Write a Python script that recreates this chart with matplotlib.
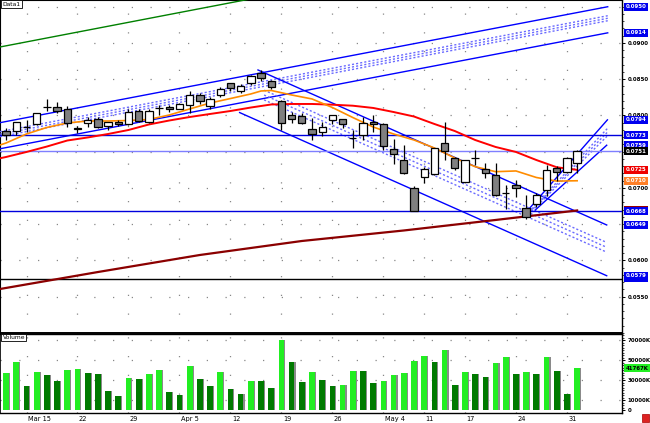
import matplotlib
matplotlib.use("Agg")
import matplotlib.pyplot as plt
import numpy as np

# ---------------- data ----------------
tick_pos = [2, 7, 12, 17, 22, 27, 32, 37, 41, 45, 50, 55]
tick_labels = ["Mar 15", "22", "29", "Apr 5", "12", "19", "26", "May 4", "11", "17", "24", "31"]

opens = [0.07786, 0.07790, 0.07840, 0.07879, 0.08118, 0.08113, 0.08094, 0.07832, 0.07892, 0.07956,
         0.07855, 0.07910, 0.07883, 0.08062, 0.07915, 0.08110, 0.08121, 0.08094, 0.08145, 0.08283,
         0.08135, 0.08279, 0.08444, 0.08342, 0.08444, 0.08590, 0.08472, 0.08196, 0.08003, 0.07993,
         0.07810, 0.07777, 0.07938, 0.07948, 0.07690, 0.07731, 0.07915, 0.07879, 0.07534, 0.07386,
         0.06996, 0.07156, 0.07189, 0.07625, 0.07410, 0.07087, 0.07418, 0.07258, 0.07179, 0.06935,
         0.07041, 0.06720, 0.06779, 0.06972, 0.07272, 0.07225, 0.07349]
highs = [0.07828, 0.07915, 0.07938, 0.08039, 0.08228, 0.08186, 0.08131, 0.07855, 0.07983, 0.07983,
         0.07915, 0.07938, 0.08086, 0.08086, 0.08090, 0.08145, 0.08141, 0.08175, 0.08342, 0.08315,
         0.08251, 0.08397, 0.08448, 0.08434, 0.08563, 0.08628, 0.08490, 0.08214, 0.08052, 0.08030,
         0.07961, 0.07915, 0.08010, 0.07952, 0.07800, 0.07983, 0.08007, 0.07901, 0.07672, 0.07593,
         0.07028, 0.07286, 0.07555, 0.07915, 0.07432, 0.07390, 0.07524, 0.07341, 0.07349, 0.07041,
         0.07110, 0.06903, 0.06927, 0.07317, 0.07304, 0.07432, 0.07524]
lows = [0.07662, 0.07731, 0.07777, 0.07869, 0.08066, 0.08030, 0.07846, 0.07755, 0.07837, 0.07823,
        0.07800, 0.07855, 0.07869, 0.07906, 0.07897, 0.08007, 0.08052, 0.08086, 0.08039, 0.08155,
        0.08086, 0.08259, 0.08342, 0.08315, 0.08421, 0.08480, 0.08361, 0.07800, 0.07892, 0.07883,
        0.07662, 0.07717, 0.07879, 0.07823, 0.07548, 0.07662, 0.07777, 0.07524, 0.07331, 0.07193,
        0.06680, 0.07065, 0.07180, 0.07386, 0.07248, 0.07083, 0.07317, 0.07134, 0.06890, 0.06706,
        0.06880, 0.06568, 0.06742, 0.06890, 0.07101, 0.07203, 0.07211]
closes = [0.07727, 0.07910, 0.07835, 0.08030, 0.08123, 0.08066, 0.07892, 0.07814, 0.07938, 0.07846,
          0.07910, 0.07879, 0.08052, 0.07928, 0.08066, 0.08106, 0.08094, 0.08159, 0.08283, 0.08196,
          0.08228, 0.08361, 0.08383, 0.08407, 0.08549, 0.08513, 0.08389, 0.07892, 0.07956, 0.07892,
          0.07741, 0.07846, 0.08007, 0.07879, 0.07683, 0.07892, 0.07879, 0.07583, 0.07469, 0.07203,
          0.06687, 0.07258, 0.07548, 0.07515, 0.07272, 0.07386, 0.07415, 0.07203, 0.06903, 0.06932,
          0.06996, 0.06596, 0.06899, 0.07248, 0.07225, 0.07410, 0.07510]
volume_k = [36900, 48200, 24100, 37900, 34700, 29500, 40100, 40800, 36900, 36300,
            19300, 13800, 32100, 31100, 36300, 40100, 17700, 15100, 44300, 31100,
            24100, 37900, 21200, 16400, 28900, 28600, 22200, 70000, 48200, 27900,
            38500, 29900, 24100, 25000, 39200, 38900, 27000, 28900, 34700, 36600,
            49100, 53900, 48200, 60400, 25000, 37600, 36300, 33100, 47200, 53000,
            35600, 38200, 35600, 53000, 39200, 16400, 41767]

# moving averages (read at candle indices)
red_idx = [-0.6, 0, 2, 4, 6, 8, 10, 12, 14, 16, 18, 20, 22, 24, 26, 28, 30, 32, 34, 36, 38, 40,
           42, 44, 46, 48, 50, 52, 54, 56]
red_val = [0.07410, 0.07428, 0.07497, 0.07572, 0.07655, 0.07697, 0.07745, 0.07800, 0.07876, 0.07931,
           0.07979, 0.08021, 0.08062, 0.08110, 0.08152, 0.08159, 0.08159, 0.08149, 0.08135, 0.08104,
           0.08048, 0.07986, 0.07883, 0.07786, 0.07662, 0.07566, 0.07497, 0.07386, 0.07286, 0.07250]
orange_idx = [-0.6, 0, 2, 4, 6, 8, 10, 12, 14, 16, 18, 20, 22, 24, 25, 26, 28, 30, 32, 34, 36, 38,
              40, 42, 44, 46, 48, 50, 52, 54, 56]
orange_val = [0.07593, 0.07621, 0.07745, 0.07835, 0.07897, 0.07924, 0.07924, 0.07931, 0.07945, 0.08007,
              0.08090, 0.08172, 0.08234, 0.08297, 0.08338, 0.08345, 0.08283, 0.08228, 0.08110, 0.07972,
              0.07841, 0.07745, 0.07662, 0.07552, 0.07414, 0.07294, 0.07225, 0.07235, 0.07145, 0.07095,
              0.07100]
ma200_idx = [-0.6, 9, 19, 29, 39, 48, 56]
ma200_val = [0.05607, 0.05841, 0.06076, 0.06269, 0.06414, 0.06559, 0.06690]

# trend lines: (start index, start value, end index, end value)
green_line = (-0.6, 0.08945, 59.0, 0.10553)
up_top = (-0.6, 0.07901, 59.0, 0.09500)
up_dotted_off = [0.00124, 0.00159, 0.00193]
up_lower_off = 0.00360
down_top = (24.7, 0.08628, 58.9, 0.06490)
down_start_lower = 22.9
down_start_dotted = 25.3
down_dotted_off = [0.00241, 0.00308, 0.00375]
down_lower_off = 0.00700
small_top = (50.9, 0.06651, 58.97, 0.07940)
small_low = (51.9, 0.06697, 58.9, 0.07590)
small_dotted_frac = [0.35, 0.5, 0.65]

hlines = [(0.0773, "#0000dd"), (0.0751, "#7f7fff"), (0.0668, "#0000dd"), (0.0575, "#000000")]

# right-edge value boxes: (value, box colour)
value_boxes = [(0.0950, "#0000ee"), (0.0914, "#0000ee"), (0.0794, "#0000ee"), (0.0773, "#0000ee"),
               (0.0759, "#0000ee"), (0.0751, "#000000"), (0.0725, "#ee0000"), (0.0710, "#ff7f27"),
               (0.0670, "#990000"), (0.0668, "#0000ee"), (0.0649, "#0000ee"), (0.0575, "#0000ee"),
               (0.0579, "#0000ee")]

price_grid = [0.055, 0.060, 0.065, 0.070, 0.075, 0.080, 0.085, 0.090, 0.095]
price_tick_labels = [0.055, 0.060, 0.070, 0.080, 0.085, 0.090]

vol_ticks = [0, 10000, 30000, 50000, 70000]
vol_tick_labels = ["0", "10000K", "30000K", "50000K", "70000K"]

# ---------------- figure ----------------
W, H = 650, 423
fig = plt.figure(figsize=(W / 100, H / 100), dpi=100)
fig.patch.set_facecolor("white")
ax = fig.add_axes([0.0, 1 - 333 / H, 622 / W, 333 / H])
axv = fig.add_axes([0.0, 10 / H, 622 / W, 79 / H])

n = len(closes)
x = np.arange(n)
O = np.array(opens); C = np.array(closes); Hh = np.array(highs); L = np.array(lows)

xlim = (-0.6, 60.4)
ax.set_xlim(*xlim)
ax.set_ylim(0.0500, 0.09593)

grid_style = dict(color="#888888", linestyle=(0, (1, 14)), linewidth=0.9, zorder=0)
for yv in price_grid:
    ax.axhline(yv, **grid_style)
for tp in tick_pos:
    ax.axvline(tp, **grid_style)

def seg(a, t0, v0, t1, v1, **kw):
    a.plot([t0, t1], [v0, v1], **kw)

def val_at(line, t):
    t0, v0, t1, v1 = line
    return v0 + (v1 - v0) * (t - t0) / (t1 - t0)

solid = dict(color="#0000ff", linewidth=1.0, zorder=3)
dots = dict(color="#6a6aff", linewidth=1.0, linestyle=(0, (1.5, 1.5)), zorder=3)

# green line
seg(ax, *green_line, color="#008000", linewidth=1.0, zorder=3)

# up channel
seg(ax, *up_top, **solid)
t0, v0, t1, v1 = up_top
for off in up_dotted_off:
    seg(ax, t0, v0 - off, t1, v1 - off, **dots)
seg(ax, t0, v0 - up_lower_off, t1, v1 - up_lower_off, **solid)

# down channel
seg(ax, *down_top, **solid)
t1 = down_top[2]
seg(ax, down_start_lower, val_at(down_top, down_start_lower) - down_lower_off,
    t1, down_top[3] - down_lower_off, **solid)
for off in down_dotted_off:
    seg(ax, down_start_dotted, val_at(down_top, down_start_dotted) - off,
        t1, down_top[3] - off, **dots)

# small up channel
seg(ax, *small_top, **solid)
seg(ax, *small_low, **solid)
for f in small_dotted_frac:
    seg(ax, small_top[0] + f * (small_low[0] - small_top[0]),
        small_top[1] + f * (small_low[1] - small_top[1]),
        small_top[2] + f * (small_low[2] - small_top[2]),
        small_top[3] + f * (small_low[3] - small_top[3]), **dots)

# horizontal lines
for v, c in hlines:
    ax.axhline(v, color=c, linewidth=1.0, zorder=3)

# moving averages
ax.plot(ma200_idx, ma200_val, color="#8b0000", linewidth=1.6, zorder=3)
ax.plot(red_idx, red_val, color="#ff0000", linewidth=1.4, zorder=3)
ax.plot(orange_idx, orange_val, color="#ff8c00", linewidth=1.2, zorder=3)

# candles
up = C >= O
ax.vlines(x, L, Hh, color="black", linewidth=0.9, zorder=4)
ax.bar(x, np.abs(C - O), bottom=np.minimum(O, C), width=0.72,
       color=np.where(up, "white", "#808080"), edgecolor="black", linewidth=0.9, zorder=5)

# axes styling
for s in ["top", "left"]:
    ax.spines[s].set_linewidth(0.8)
ax.spines["bottom"].set_linewidth(1.4)
ax.spines["right"].set_linewidth(1.0)
ax.set_xticks([])
ax.yaxis.tick_right()
ax.set_yticks(price_tick_labels)
ax.set_yticks(np.arange(0.050, 0.0959, 0.001), minor=True)
ax.yaxis.set_major_formatter(matplotlib.ticker.FuncFormatter(lambda v, p: f"{v:.4f}"))
ax.tick_params(axis="y", which="major", direction="out", length=2.5, width=0.7,
               labelsize=4.0, pad=1.5)
ax.tick_params(axis="y", which="minor", direction="out", length=1.3, width=0.5)
for lab in ax.get_yticklabels():
    lab.set_fontweight("bold")

label_font = 3.9
for v, c in value_boxes:
    ax.annotate(f"{v:.4f}", xy=(1.0, v), xycoords=("axes fraction", "data"),
                xytext=(2.6, 0), textcoords="offset points", ha="left", va="center",
                fontsize=label_font, color="white", fontweight="bold", zorder=10,
                annotation_clip=False,
                bbox=dict(boxstyle="square,pad=0.25", fc=c, ec=c, lw=0))

ax.text(0.004, 0.995, "Data1", transform=ax.transAxes, fontsize=4.3, va="top", ha="left",
        bbox=dict(boxstyle="square,pad=0.2", fc="white", ec="black", lw=0.6), zorder=10)

# ---------------- volume ----------------
axv.set_xlim(*xlim)
axv.set_ylim(-3000, 76000)
for yv in [10000, 30000, 50000, 70000]:
    axv.axhline(yv, **grid_style)
for tp in tick_pos:
    axv.axvline(tp, **grid_style)
vol = np.array(volume_k)
prev = np.concatenate([[0], vol[:-1]])
vcol = np.where(vol > prev, "#22ee22", "#007a00")
axv.bar(x + 0.1, vol, width=0.58, color="#8a8a8a", zorder=2)
axv.bar(x, vol, width=0.56, color=vcol, zorder=3)

axv.set_xticks([])
axv.yaxis.tick_right()
axv.set_yticks(vol_ticks)
axv.set_yticklabels(vol_tick_labels)
axv.set_yticks(np.arange(0, 76000, 2500), minor=True)
axv.tick_params(axis="y", which="major", direction="out", length=2.5, width=0.7,
                labelsize=4.0, pad=1.5)
axv.tick_params(axis="y", which="minor", direction="out", length=1.3, width=0.5)
for lab in axv.get_yticklabels():
    lab.set_fontweight("bold")
for s in axv.spines.values():
    s.set_linewidth(1.0)
axv.spines["left"].set_linewidth(0.6)

axv.annotate(f"{volume_k[-1]}K", xy=(1.0, volume_k[-1]), xycoords=("axes fraction", "data"),
             xytext=(2.6, 0), textcoords="offset points", ha="left", va="center",
             fontsize=label_font, color="black", fontweight="bold", zorder=10,
             annotation_clip=False,
             bbox=dict(boxstyle="square,pad=0.25", fc="#22ee22", ec="#22ee22", lw=0))

axv.text(0.004, 0.985, "Volume", transform=axv.transAxes, fontsize=4.3, va="top", ha="left",
         bbox=dict(boxstyle="square,pad=0.2", fc="white", ec="black", lw=0.6), zorder=10)

for tp, tl in zip(tick_pos, tick_labels):
    axv.annotate(tl, xy=(tp, 0), xycoords=("data", "axes fraction"), xytext=(1, -2),
                 textcoords="offset points", ha="left", va="top", fontsize=4.8,
                 annotation_clip=False)

# small corner icon
fig.patches.append(matplotlib.patches.Rectangle((642 / W, 1 / H), 7 / W, 8 / H,
                                                transform=fig.transFigure, fc="#dd2222",
                                                ec="#aa0000", lw=0.5))

fig.savefig("out.png", dpi=100, facecolor="white")
